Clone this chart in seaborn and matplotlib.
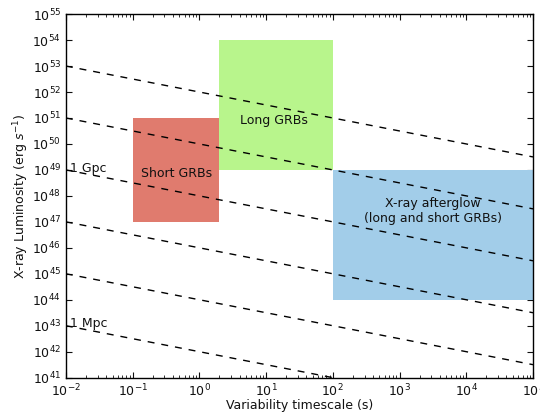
import numpy as np
import pandas as pd
import matplotlib
matplotlib.use("Agg")
import matplotlib.pyplot as plt
import seaborn as sns
from matplotlib.patches import Rectangle

# source regions: (name, t_min, t_max, L_min, L_max)
box_names = ["Short GRBs", "Long GRBs", "X-ray afterglow\n(long and short GRBs)"]
box_tmin = [1e-1, 2e0, 1e2]
box_tmax = [2e0, 1e2, 1e5]
box_lmin = [1e47, 1e49, 1e44]
box_lmax = [1e51, 1e54, 1e49]
box_colors = ["#e07b6e", "#b8f58c", "#a2cde9"]

# dashed distance lines: luminosity at t = 1e-2 s and at t = 1e5 s
line_t = [1e-2, 1e5]
line_l_start = [1e53, 1e51, 1e49, 1e47, 1e45, 1e43]
line_l_end = [10**49.5, 10**47.5, 10**45.5, 10**43.5, 10**41.5, 10**39.5]

sns.set_style("ticks")
plt.rcParams['font.family'] = ['DejaVu Sans']
plt.rcParams['xtick.direction'] = 'in'
plt.rcParams['ytick.direction'] = 'in'
plt.rcParams['text.color'] = '#111111'
plt.rcParams['axes.labelcolor'] = '#111111'
plt.rcParams['xtick.color'] = '#111111'
plt.rcParams['ytick.color'] = '#111111'

fig, ax = plt.subplots(figsize=(5.4, 4.15), dpi=100)

for name, x0, x1, y0, y1, c in zip(box_names, box_tmin, box_tmax, box_lmin, box_lmax, box_colors):
    ax.add_patch(Rectangle((x0, y0), x1 - x0, y1 - y0, facecolor=c, edgecolor='none', zorder=1))

rows = []
for i, (a, b) in enumerate(zip(line_l_start, line_l_end)):
    rows.append({"t": line_t[0], "L": a, "line": i})
    rows.append({"t": line_t[1], "L": b, "line": i})
df = pd.DataFrame(rows)
sns.lineplot(data=df, x="t", y="L", units="line", estimator=None, color="black",
             linestyle=(0, (5, 5)), linewidth=1, ax=ax, zorder=3)

ax.set_xscale("log")
ax.set_yscale("log")
ax.set_xlim(1e-2, 1e5)
ax.set_ylim(1e41, 1e55)
ax.set_yticks([10.0**k for k in range(41, 56)])
ax.yaxis.set_minor_locator(matplotlib.ticker.NullLocator())
ax.tick_params(which='both', top=True, right=True, labelsize=9)
ax.tick_params(which='major', length=4)
ax.tick_params(which='minor', length=2)

fs = 9
ax.text(0.45, 10**48.85, "Short GRBs", ha='center', va='center', fontsize=fs)
ax.text(13, 10**50.9, "Long GRBs", ha='center', va='center', fontsize=fs)
ax.text(3.2e3, 10**47.4, "X-ray afterglow\n(long and short GRBs)", ha='center', va='center', fontsize=fs)
ax.text(1.15e-2, 10**49.05, "1 Gpc", ha='left', va='center', fontsize=fs)
ax.text(1.15e-2, 10**43.1, "1 Mpc", ha='left', va='center', fontsize=fs)

ax.set_xlabel("Variability timescale (s)", fontsize=fs, labelpad=0)
ax.set_ylabel("X-ray Luminosity (erg $s^{-1}$)", fontsize=fs, labelpad=1)

for s in ax.spines.values():
    s.set_color("black")
    s.set_linewidth(1)

fig.subplots_adjust(left=0.122, right=0.987, top=0.966, bottom=0.09)
fig.savefig("out.png", dpi=100)
